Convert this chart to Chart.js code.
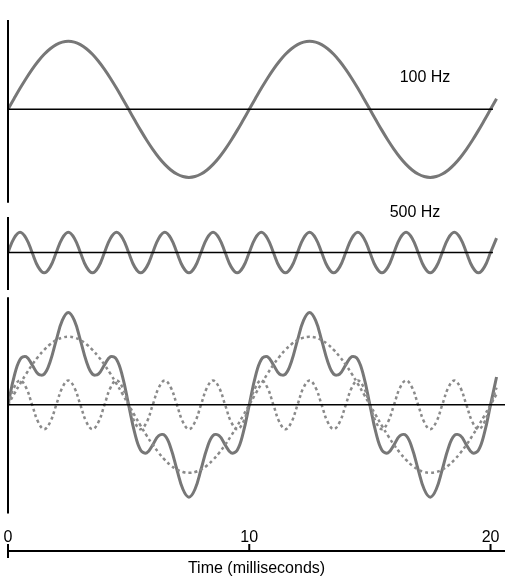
<!DOCTYPE html>
<html><head><meta charset="utf-8">
<script src="https://cdn.jsdelivr.net/npm/chart.js@4"></script>
<style>html,body{margin:0;padding:0;background:#fff}#w{width:515px;height:587px}</style>
</head><body><div id="w"><canvas id="c"></canvas></div>
<script>
// normalized 100 Hz samples, every 0.25 ms from 0 to 20.25 ms
const wave100 = [0,.156,.309,.454,.588,.707,.809,.891,.951,.988,1,.988,.951,.891,.809,.707,.588,.454,.309,.156,0,-.156,-.309,-.454,-.588,-.707,-.809,-.891,-.951,-.988,-1,-.988,-.951,-.891,-.809,-.707,-.588,-.454,-.309,-.156,
0,.156,.309,.454,.588,.707,.809,.891,.951,.988,1,.988,.951,.891,.809,.707,.588,.454,.309,.156,0,-.156,-.309,-.454,-.588,-.707,-.809,-.891,-.951,-.988,-1,-.988,-.951,-.891,-.809,-.707,-.588,-.454,-.309,-.156,
0,.156];
// normalized 500 Hz samples, same times
const wave500 = [0,.707,1,.707,0,-.707,-1,-.707, 0,.707,1,.707,0,-.707,-1,-.707, 0,.707,1,.707,0,-.707,-1,-.707, 0,.707,1,.707,0,-.707,-1,-.707, 0,.707,1,.707,0,-.707,-1,-.707,
0,.707,1,.707,0,-.707,-1,-.707, 0,.707,1,.707,0,-.707,-1,-.707, 0,.707,1,.707,0,-.707,-1,-.707, 0,.707,1,.707,0,-.707,-1,-.707, 0,.707,1,.707,0,-.707,-1,-.707,
0,.707];
const times = wave100.map((_, i) => i * 0.25);
const xTicks = [0, 10, 20];
const panelLabels = ["100 Hz", "500 Hz"];

// panel layout in y units (pixel-like)
const base = {top: 407, mid: 266, bot: 116};
const amp = {top: 67, mid: 20, bot100: 67, bot500: 24};

const pts = (arr, b, a) => arr.map((v, i) => ({x: times[i], y: b + a * v}));
const solid = {borderColor: '#777', borderWidth: 3, pointRadius: 0, tension: 0.4, fill: false};
const dotted = {borderColor: '#8a8a8a', borderWidth: 2.5, borderDash: [3, 3], pointRadius: 0, tension: 0.4, fill: false};
const line = (b, xe) => ({data: [{x: 0, y: b}, {x: xe, y: b}], borderColor: '#000', borderWidth: 1.5, pointRadius: 0});

const datasets = [
  line(base.top, 20.1), line(base.mid, 20.1), line(base.bot, 20.6),
  {...dotted, data: pts(wave100, base.bot, amp.bot100)},
  {...dotted, data: pts(wave500, base.bot, amp.bot500)},
  {...solid, data: pts(wave100, base.top, amp.top)},
  {...solid, data: pts(wave500, base.mid, amp.mid)},
  {...solid, data: wave100.map((v, i) => ({x: times[i], y: base.bot + amp.bot100 * v + amp.bot500 * wave500[i]}))}
];

const deco = {
  id: 'deco',
  afterDraw(ch) {
    const c = ch.ctx, x = ch.scales.x, y = ch.scales.y;
    c.save();
    c.strokeStyle = '#000'; c.lineWidth = 2;
    const x0 = x.getPixelForValue(0);
    [[495, 315], [301, 229], [222, 9]].forEach(([a, b]) => {
      c.beginPath(); c.moveTo(x0, y.getPixelForValue(a)); c.lineTo(x0, y.getPixelForValue(b)); c.stroke();
    });
    const ay = 551;
    c.beginPath(); c.moveTo(x0, ay); c.lineTo(x.getPixelForValue(20.6), ay); c.stroke();
    c.beginPath(); c.moveTo(x0, 544); c.lineTo(x0, 558); c.stroke();
    [10, 20].forEach(t => { const p = x.getPixelForValue(t); c.beginPath(); c.moveTo(p, 544); c.lineTo(p, 551); c.stroke(); });
    c.fillStyle = '#000'; c.font = '16px "Liberation Sans", Arial, sans-serif'; c.textAlign = 'center'; c.textBaseline = 'middle';
    c.fillText(panelLabels[0], 425, 78);
    c.fillText(panelLabels[1], 415, 213);
    c.restore();
  }
};

new Chart(document.getElementById('c'), {
  type: 'line',
  data: {datasets},
  options: {
    responsive: true, maintainAspectRatio: false, animation: false,
    layout: {padding: {left: 8, right: 10, top: 20, bottom: 9}},
    plugins: {legend: {display: false}, tooltip: {enabled: false}},
    scales: {
      x: {type: 'linear', min: 0, max: 20.6,
          afterBuildTicks: s => { s.ticks = xTicks.map(v => ({value: v})); },
          grid: {display: false}, border: {display: false},
          ticks: {color: '#000', font: {size: 16, family: '"Liberation Sans", Arial'}, padding: -3, maxRotation: 0},
          title: {display: true, text: 'Time (milliseconds)', color: '#000', font: {size: 16, family: '"Liberation Sans", Arial'}, padding: {top: 15, bottom: 0}}},
      y: {display: false, min: 0, max: 495}
    }
  },
  plugins: [deco]
});
</script></body></html>
